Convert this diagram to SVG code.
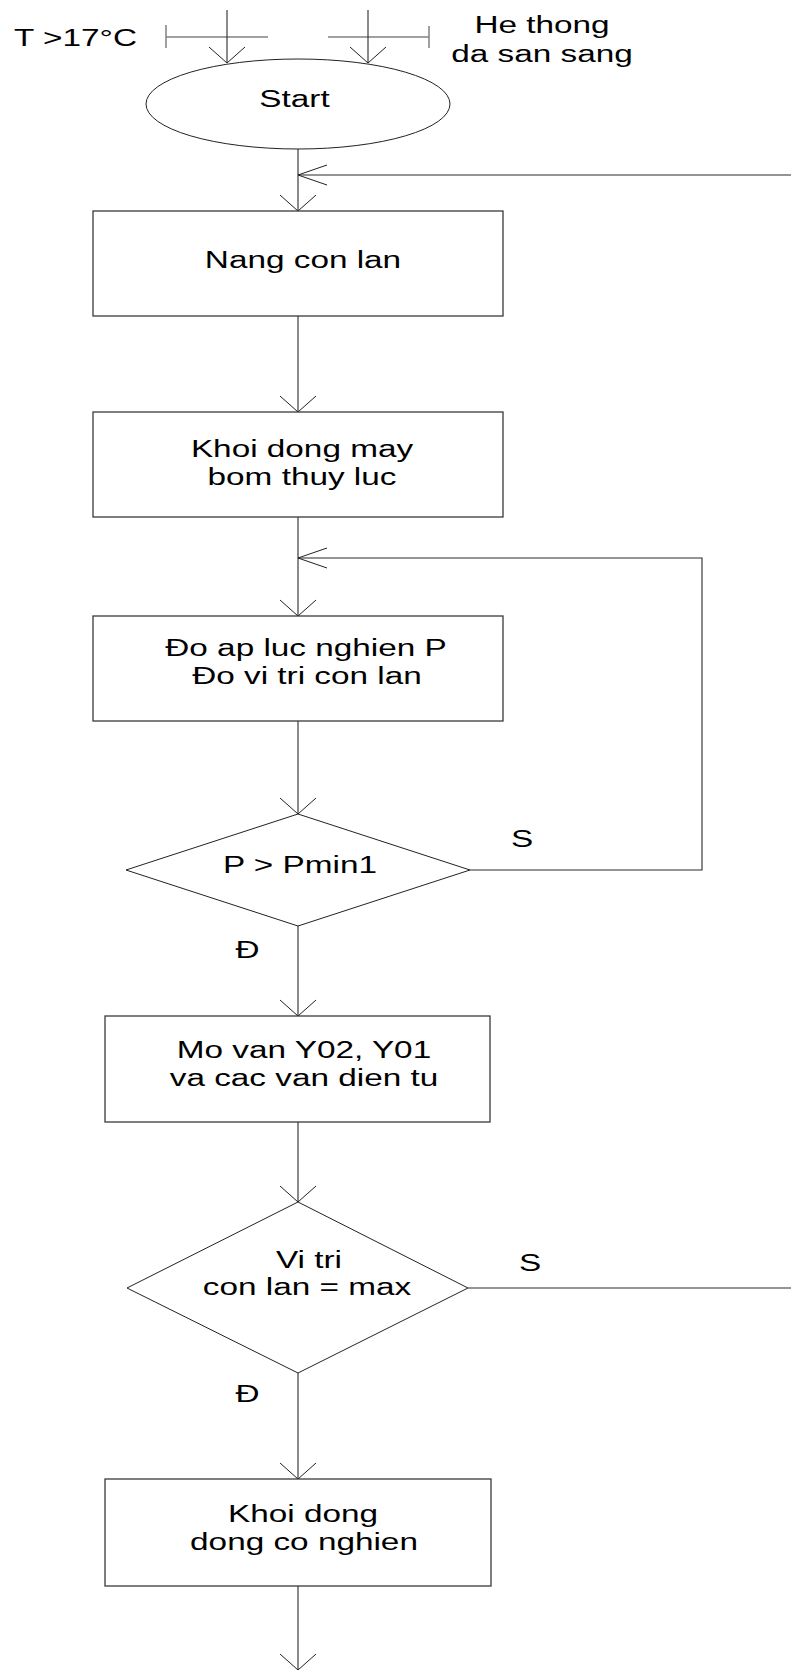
<svg xmlns="http://www.w3.org/2000/svg" width="791" height="1670" viewBox="0 0 791 1670">
  <style>
    .bg { fill: #ffffff; }
    .shape { fill: #ffffff; stroke: #3a3a3a; stroke-width: 1.3; }
    .dia { fill: #ffffff; stroke: #222222; stroke-width: 1; }
    .ln { fill: none; stroke: #2a2a2a; stroke-width: 1.1; }
    .gray { fill: none; stroke: #808080; stroke-width: 1.5; }
    .head { fill: none; stroke: #222222; stroke-width: 1; }
    .t { font-family: "Liberation Sans", Arial, sans-serif; font-size: 24.5px; fill: #000000; text-anchor: middle; }
  </style>
  <defs>
    <!-- open arrowheads, tip at origin -->
    <polyline id="ahDown" class="head" points="-18,-16 0,0 18,-16"/>
    <polyline id="ahLeft" class="head" points="29,-10 0,0 29,10"/>
  </defs>
  <rect class="bg" x="0" y="0" width="791" height="1670"/>

  <!-- connectors -->
  <g id="connectors">
    <!-- input conditions -->
    <line class="gray" x1="166" y1="37" x2="268" y2="37"/>
    <line class="gray" x1="166" y1="25" x2="166" y2="48"/>
    <line class="gray" x1="328" y1="37" x2="429" y2="37"/>
    <line class="gray" x1="429" y1="26" x2="429" y2="48"/>
    <line class="ln" x1="227" y1="10" x2="227" y2="63"/>
    <use href="#ahDown" x="227" y="63"/>
    <line class="ln" x1="368" y1="10" x2="368" y2="63"/>
    <use href="#ahDown" x="368" y="63"/>

    <!-- start -> box 1 -->
    <line class="ln" x1="298" y1="149" x2="298" y2="211"/>
    <use href="#ahDown" x="298" y="211"/>
    <!-- return from right (S of position check) -->
    <line class="ln" x1="791" y1="175" x2="298" y2="175"/>
    <use href="#ahLeft" x="298" y="175"/>

    <!-- box 1 -> box 2 -->
    <line class="ln" x1="298" y1="316" x2="298" y2="412"/>
    <use href="#ahDown" x="298" y="412"/>

    <!-- box 2 -> box 3 -->
    <line class="ln" x1="298" y1="517" x2="298" y2="616"/>
    <use href="#ahDown" x="298" y="616"/>
    <!-- pressure loop -->
    <polyline class="ln" points="470,870 702,870 702,558 298,558"/>
    <use href="#ahLeft" x="298" y="558"/>

    <!-- box 3 -> decision 1 -->
    <line class="ln" x1="298" y1="721" x2="298" y2="814"/>
    <use href="#ahDown" x="298" y="814"/>

    <!-- decision 1 -> box 4 -->
    <line class="ln" x1="298" y1="926" x2="298" y2="1016"/>
    <use href="#ahDown" x="298" y="1016"/>

    <!-- box 4 -> decision 2 -->
    <line class="ln" x1="298" y1="1122" x2="298" y2="1202"/>
    <use href="#ahDown" x="298" y="1202"/>
    <!-- decision 2, S branch to the right -->
    <line class="ln" x1="468" y1="1288" x2="791" y2="1288"/>

    <!-- decision 2 -> box 5 -->
    <line class="ln" x1="298" y1="1373" x2="298" y2="1479"/>
    <use href="#ahDown" x="298" y="1479"/>

    <!-- box 5 -> continue -->
    <line class="ln" x1="298" y1="1586" x2="298" y2="1670"/>
    <use href="#ahDown" x="298" y="1670"/>

    <!-- branch labels -->
    <text class="t" transform="translate(522,847) scale(1.36,1)">S</text>
    <text class="t" transform="translate(247.5,957.5) scale(1.36,1)">Đ</text>
    <text class="t" transform="translate(530,1270.5) scale(1.36,1)">S</text>
    <text class="t" transform="translate(247.5,1402) scale(1.36,1)">Đ</text>
  </g>

  <!-- input labels -->
  <g id="cond-temp">
    <text class="t" transform="translate(75.5,46) scale(1.36,1)">T &gt;17°C</text>
  </g>
  <g id="cond-ready">
    <text class="t" transform="translate(542,33.3) scale(1.36,1)">He thong</text>
    <text class="t" transform="translate(542,61.7) scale(1.36,1)">da san sang</text>
  </g>

  <g id="start">
    <ellipse class="dia" cx="298" cy="104" rx="152" ry="45"/>
    <text class="t" transform="translate(294.5,107.3) scale(1.36,1)">Start</text>
  </g>

  <g id="box-nang">
    <rect class="shape" x="93" y="211" width="410" height="105"/>
    <text class="t" transform="translate(303,268) scale(1.36,1)">Nang con lan</text>
  </g>

  <g id="box-bom">
    <rect class="shape" x="93" y="412" width="410" height="105"/>
    <text class="t" transform="translate(302,457.3) scale(1.36,1)">Khoi dong may</text>
    <text class="t" transform="translate(302,485.3) scale(1.36,1)">bom thuy luc</text>
  </g>

  <g id="box-do">
    <rect class="shape" x="93" y="616" width="410" height="105"/>
    <text class="t" transform="translate(306,656) scale(1.36,1)">Đo ap luc nghien P</text>
    <text class="t" transform="translate(307,684) scale(1.36,1)">Đo vi tri con lan</text>
  </g>

  <g id="dec-pmin">
    <polygon class="dia" points="298,814 470,870 298,926 126,870"/>
    <text class="t" transform="translate(300,873.3) scale(1.36,1)">P &gt; Pmin1</text>
  </g>

  <g id="box-van">
    <rect class="shape" x="105" y="1016" width="385" height="106"/>
    <text class="t" transform="translate(304,1058) scale(1.36,1)">Mo van Y02, Y01</text>
    <text class="t" transform="translate(304,1086) scale(1.36,1)">va cac van dien tu</text>
  </g>

  <g id="dec-vitri">
    <polygon class="dia" points="298,1202 468,1288 298,1373 127,1288"/>
    <text class="t" transform="translate(309,1267.7) scale(1.36,1)">Vi tri</text>
    <text class="t" transform="translate(307,1295) scale(1.36,1)">con lan = max</text>
  </g>

  <g id="box-nghien">
    <rect class="shape" x="105" y="1479" width="386" height="107"/>
    <text class="t" transform="translate(303,1521.7) scale(1.36,1)">Khoi dong</text>
    <text class="t" transform="translate(304,1550) scale(1.36,1)">dong co nghien</text>
  </g>
</svg>
